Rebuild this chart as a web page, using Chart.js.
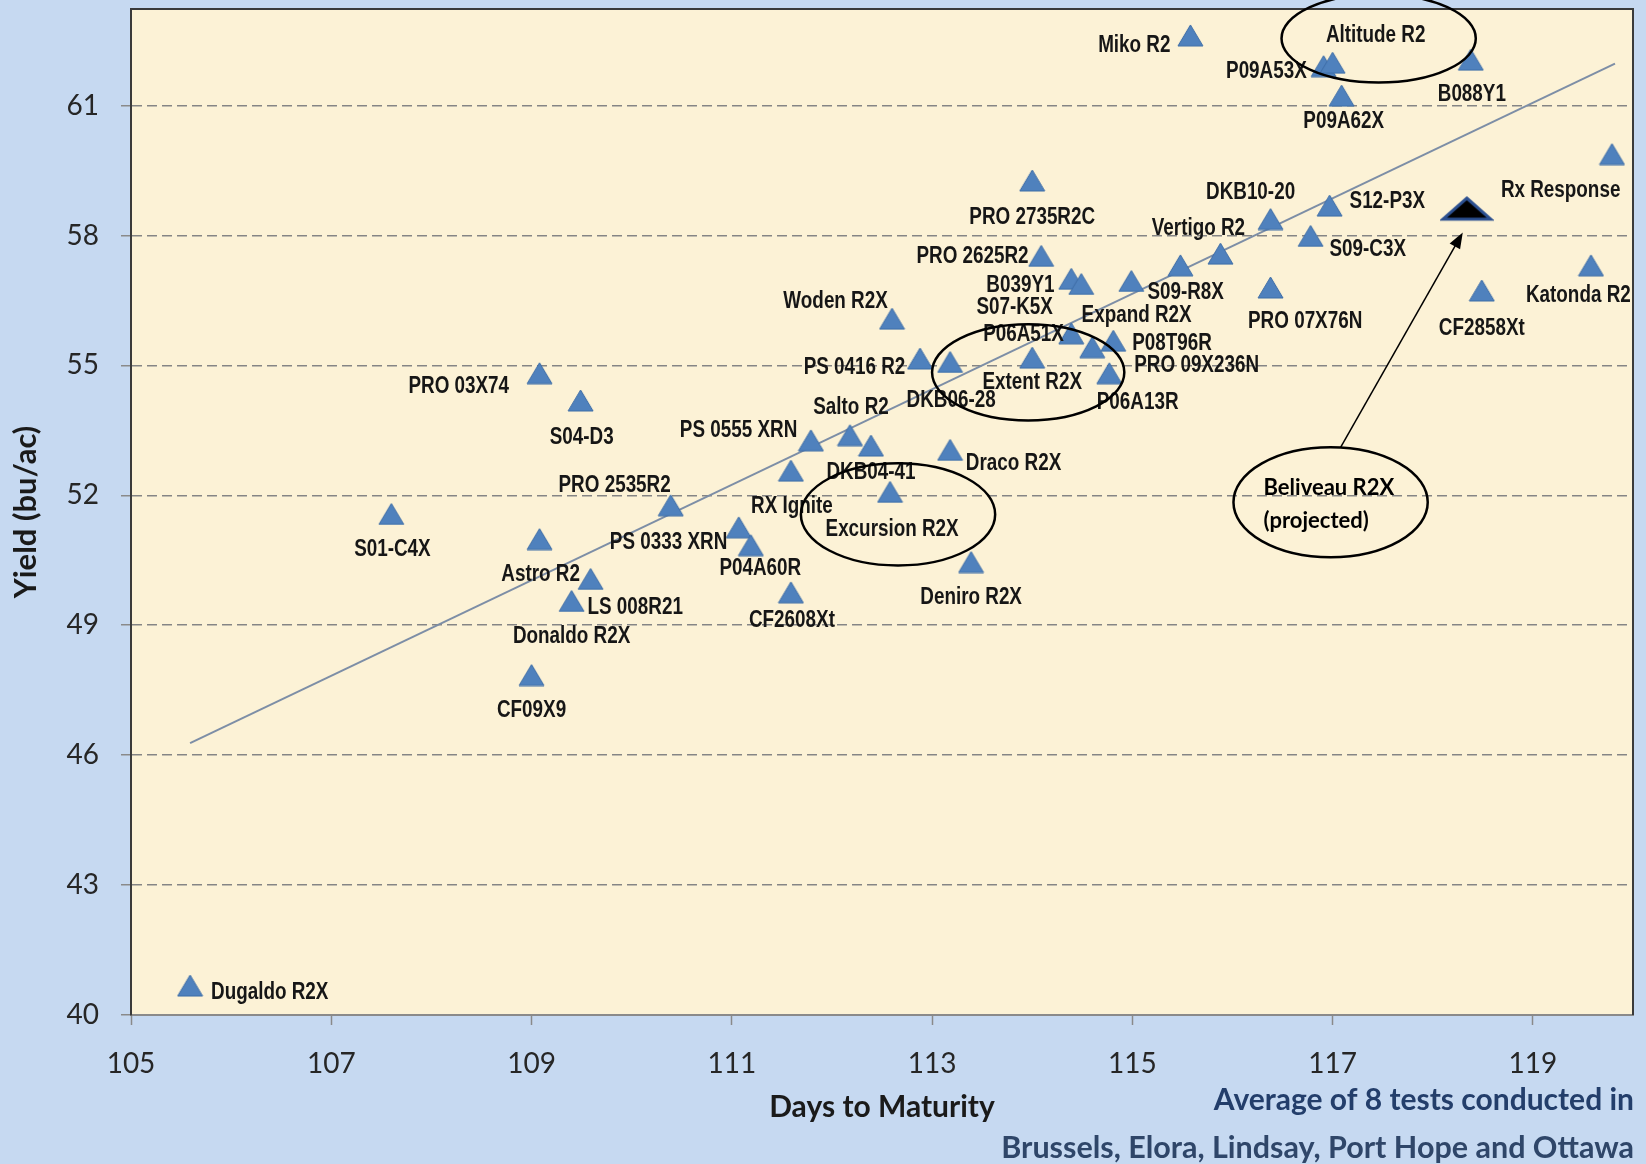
<!DOCTYPE html>
<html>
<head>
<meta charset="utf-8">
<script src="https://cdn.jsdelivr.net/npm/chart.js@4.4.0/dist/chart.umd.min.js"></script>
<style>
  html, body { margin: 0; padding: 0; background: #c6d9f1; }
  #wrap { width: 1646px; height: 1164px; }
  canvas { display: block; }
</style>
</head>
<body>
<div id="wrap"><canvas id="c" width="1646" height="1164"></canvas></div>
<script>
// ---------------- data ----------------
const varieties = ['Miko R2','P09A53X','Altitude R2','P09A62X','B088Y1','Rx Response','S12-P3X','DKB10-20','S09-C3X','Vertigo R2',
  'S09-R8X','Expand R2X','PRO 07X76N','Katonda R2','CF2858Xt','PRO 2735R2C','PRO 2625R2','B039Y1','S07-K5X','Woden R2X',
  'P06A51X','PRO 09X236N','P08T96R','Extent R2X','PS 0416 R2','DKB06-28','P06A13R','PRO 03X74','S04-D3','PS 0555 XRN',
  'Salto R2','DKB04-41','Draco R2X','RX Ignite','PRO 2535R2','S01-C4X','Excursion R2X','PS 0333 XRN','P04A60R','Astro R2',
  'LS 008R21','Donaldo R2X','Deniro R2X','CF2608Xt','CF09X9','Dugaldo R2X'];
const daysToMaturity = [115.58,116.91,117.00,117.09,118.38,119.79,116.97,116.38,116.78,115.88,
  115.48,114.99,116.38,119.58,118.49,114.00,114.09,114.39,114.49,112.60,
  114.39,114.60,114.81,114.00,112.88,113.18,114.77,109.08,109.49,111.79,
  112.18,112.39,113.18,111.59,110.39,107.60,112.58,111.07,111.19,109.08,
  109.59,109.40,113.39,111.59,109.00,105.59];
const yieldBuAc = [62.62,61.91,61.99,61.23,62.06,59.88,58.69,58.38,57.99,57.58,
  57.31,56.95,56.80,57.31,56.73,59.27,57.53,57.00,56.88,56.08,
  55.74,55.42,55.57,55.18,55.16,55.08,54.82,54.82,54.19,53.27,
  53.39,53.15,53.05,52.57,51.77,51.57,52.08,51.26,50.85,50.99,
  50.07,49.56,50.46,49.76,47.85,40.68];
const projectedName = ['Beliveau R2X', '(projected)'];
const projectedDays = [118.34];
const projectedYield = [58.62];
const trendDays = [105.59, 119.82];
const trendYield = [46.28, 61.97];
const xTicks = [105, 107, 109, 111, 113, 115, 117, 119];
const yTicks = [40, 43, 46, 49, 52, 55, 58, 61];

// ---------------- label placement (style) ----------------
// [dx, dy, anchor] offsets from the marker; l = text starts there, r = text ends there, c = centred
const labelLayout = [[-19,10,'r'],[-16,5,'r'],[41,-26,'c'],[2,25,'c'],[1,33,'c'],[8,35,'r'],[19,-4,'l'],[-19,-25,'c'],[18,13,'l'],[-21,-24,'c'],
  [5,26,'c'],[5,33,'c'],[33,33,'c'],[-12,29,'c'],[0,36,'c'],[0,35,'c'],[-12,1,'r'],[-16,7,'r'],[-27,23,'r'],[-4,-16,'r'],
  [-7,1,'r'],[40,18,'l'],[18,3,'l'],[0,24,'c'],[-14,9,'r'],[1,37,'c'],[27,28,'c'],[-29,13,'r'],[1,35,'c'],[-13,-9,'r'],
  [1,-26,'c'],[0,26,'c'],[15,13,'l'],[1,34,'c'],[0,-19,'r'],[1,34,'c'],[2,36,'c'],[-11,15,'r'],[9,22,'c'],[1,34,'c'],
  [-3,27,'l'],[0,34,'c'],[0,34,'c'],[1,27,'c'],[0,34,'c'],[20,7,'l']];
const S = 1.05;
const NARROW = 0.82;
// callout ellipses (centre in data units, radii in data units)
const callouts = [
  {x:117.46, y:62.55, rx:0.97, ry:1.02},
  {x:113.96, y:54.84, rx:0.96, ry:1.11},
  {x:112.66, y:51.56, rx:0.97, ry:1.18},
  {x:116.98, y:51.84, rx:0.97, ry:1.27}
];
const arrowFrom = {x:117.08, y:53.11};
const arrowTo = {x:118.30, y:58.07};
const noteAt = {x:116.31, y1:52.16, y2:51.42};

// ---------------- marker images ----------------
function triCanvas(w, h, fill, stroke, lw) {
  const c = document.createElement('canvas');
  const pad = Math.ceil(lw);
  c.width = w + pad * 2; c.height = h + pad * 2;
  const g = c.getContext('2d');
  g.beginPath();
  g.moveTo(c.width / 2, pad);
  g.lineTo(c.width - pad, c.height - pad);
  g.lineTo(pad, c.height - pad);
  g.closePath();
  g.fillStyle = fill; g.fill();
  g.lineWidth = lw; g.strokeStyle = stroke; g.lineJoin = 'miter'; g.stroke();
  return c;
}
const blueTri = triCanvas(25, 21, '#4f81bd', '#3d6ca6', 1);
const blackTri = triCanvas(48, 21, '#000000', '#2b4f8f', 3);

// ---------------- plugins ----------------
const bgPlugin = {
  id: 'bg',
  beforeDraw(c) {
    const {ctx, chartArea: a} = c;
    ctx.save();
    ctx.fillStyle = '#c6d9f1';
    ctx.fillRect(0, 0, c.width, c.height);
    ctx.fillStyle = '#fcf2d6';
    ctx.fillRect(a.left, a.top, a.right - a.left, a.bottom - a.top);
    ctx.restore();
  },
  beforeDatasetsDraw(c) {
    const {ctx, chartArea: a} = c;
    ctx.save();
    ctx.strokeStyle = '#3a3a3a';
    ctx.lineWidth = 2;
    ctx.beginPath();
    ctx.moveTo(a.left, a.bottom);
    ctx.lineTo(a.left, a.top);
    ctx.lineTo(a.right, a.top);
    ctx.lineTo(a.right, a.bottom);
    ctx.stroke();
    ctx.restore();
  }
};

function narrowText(ctx, text, x, y, align, k) {
  ctx.save();
  ctx.translate(x, y);
  ctx.scale(k, 1);
  ctx.textAlign = align;
  ctx.fillText(text, 0, 0);
  ctx.restore();
}

const labelPlugin = {
  id: 'labels',
  afterDatasetsDraw(c) {
    const ctx = c.ctx;
    const xs = c.scales.x, ys = c.scales.y;
    const meta = c.getDatasetMeta(0);
    ctx.save();
    ctx.font = "bold 23px 'Liberation Sans', Arial, sans-serif";
    ctx.fillStyle = '#161616';
    ctx.textBaseline = 'middle';
    meta.data.forEach((pt, i) => {
      const [dx, dy, al] = labelLayout[i];
      const align = al === 'l' ? 'left' : (al === 'r' ? 'right' : 'center');
      narrowText(ctx, varieties[i], pt.x + dx * S, pt.y + dy * S, align, NARROW);
    });
    // callout ellipses
    ctx.strokeStyle = '#000';
    ctx.lineWidth = 2.5;
    callouts.forEach(e => {
      const cx = xs.getPixelForValue(e.x), cy = ys.getPixelForValue(e.y);
      const rxp = Math.abs(xs.getPixelForValue(e.x + e.rx) - cx);
      const ryp = Math.abs(ys.getPixelForValue(e.y + e.ry) - cy);
      ctx.beginPath();
      ctx.ellipse(cx, cy, rxp, ryp, 0, 0, Math.PI * 2);
      ctx.stroke();
    });
    // arrow
    const x1 = xs.getPixelForValue(arrowFrom.x), y1 = ys.getPixelForValue(arrowFrom.y);
    const x2 = xs.getPixelForValue(arrowTo.x), y2 = ys.getPixelForValue(arrowTo.y);
    const ang = Math.atan2(y2 - y1, x2 - x1);
    const hl = 16, hw = 6;
    ctx.lineWidth = 1.5;
    ctx.beginPath();
    ctx.moveTo(x1, y1);
    ctx.lineTo(x2 - Math.cos(ang) * hl * 0.8, y2 - Math.sin(ang) * hl * 0.8);
    ctx.stroke();
    ctx.fillStyle = '#000';
    ctx.beginPath();
    ctx.moveTo(x2, y2);
    ctx.lineTo(x2 - Math.cos(ang) * hl - Math.sin(ang) * hw, y2 - Math.sin(ang) * hl + Math.cos(ang) * hw);
    ctx.lineTo(x2 - Math.cos(ang) * hl + Math.sin(ang) * hw, y2 - Math.sin(ang) * hl - Math.cos(ang) * hw);
    ctx.closePath();
    ctx.fill();
    // note text
    ctx.font = "bold 22px Lato, 'Open Sans', sans-serif";
    ctx.fillStyle = '#000';
    ctx.textAlign = 'left';
    const nx = xs.getPixelForValue(noteAt.x);
    ctx.fillText(projectedName[0], nx, ys.getPixelForValue(noteAt.y1));
    ctx.fillText(projectedName[1], nx, ys.getPixelForValue(noteAt.y2));
    ctx.restore();
  },
  afterDraw(c) {
    const ctx = c.ctx;
    const a = c.chartArea;
    ctx.save();
    ctx.textAlign = 'right';
    ctx.textBaseline = 'middle';
    ctx.fillStyle = '#233e6b';
    ctx.font = "bold 30px Lato, 'Open Sans', sans-serif";
    ctx.fillText('Average of 8 tests conducted in', a.right + 1, 1100);
    ctx.fillStyle = '#2f4669';
    ctx.font = "bold 30.5px Lato, 'Open Sans', sans-serif";
    ctx.fillText('Brussels, Elora, Lindsay, Port Hope and Ottawa', a.right + 1, 1148);
    ctx.restore();
  }
};

// ---------------- chart ----------------
const ctx = document.getElementById('c').getContext('2d');
new Chart(ctx, {
  type: 'scatter',
  data: {
    datasets: [
      {
        label: 'Varieties',
        data: daysToMaturity.map((x, i) => ({x: x, y: yieldBuAc[i]})),
        pointStyle: blueTri,
        pointRadius: 12,
        pointHoverRadius: 12,
        order: 1
      },
      {
        label: projectedName.join(' '),
        data: projectedDays.map((x, i) => ({x: x, y: projectedYield[i]})),
        pointStyle: blackTri,
        pointRadius: 20,
        pointHoverRadius: 20,
        order: 0
      },
      {
        type: 'line',
        label: 'Trend',
        data: trendDays.map((x, i) => ({x: x, y: trendYield[i]})),
        borderColor: '#7d8ea6',
        borderWidth: 2,
        pointRadius: 0,
        showLine: true,
        fill: false,
        tension: 0,
        order: 3
      }
    ]
  },
  options: {
    responsive: false,
    animation: false,
    devicePixelRatio: 1,
    events: [],
    layout: { padding: { left: 0, right: 13, top: 9, bottom: 0 }, autoPadding: false },
    plugins: { legend: { display: false }, tooltip: { enabled: false } },
    scales: {
      x: {
        type: 'linear',
        position: 'bottom',
        min: 105,
        max: 120,
        afterBuildTicks: s => { s.ticks = xTicks.map(v => ({value: v})); },
        afterFit: s => { s.height = 149; s.paddingLeft = 0; s.paddingRight = 0; },
        ticks: {
          font: { family: 'Lato', size: 28 },
          color: '#262626',
          padding: 22,
          maxRotation: 0,
          autoSkip: false
        },
        grid: { drawOnChartArea: false, drawTicks: true, tickLength: 10, tickColor: '#8a8a8a', tickWidth: 1.5 },
        border: { display: true, color: '#8a8a8a', width: 2 },
        title: {
          display: true,
          text: 'Days to Maturity',
          font: { family: 'Lato', size: 30, weight: 'bold' },
          color: '#1a1a1a',
          padding: { top: 0, bottom: 39 }
        }
      },
      y: {
        type: 'linear',
        position: 'left',
        min: 40,
        max: 63.23,
        afterBuildTicks: s => { s.ticks = yTicks.map(v => ({value: v})); },
        afterFit: s => { s.width = 131; s.paddingTop = 0; s.paddingBottom = 0; },
        ticks: {
          font: { family: 'Lato', size: 28 },
          color: '#262626',
          padding: 22
        },
        grid: {
          color: c => (c.tick && c.tick.value === 40) ? 'rgba(0,0,0,0)' : '#858585',
          lineWidth: 1.5,
          drawTicks: true,
          tickLength: 10,
          tickColor: '#8a8a8a',
          tickWidth: 1.5
        },
        border: { display: true, color: '#4a4a4a', width: 2, dash: [10, 5] },
        title: {
          display: true,
          text: 'Yield (bu/ac)',
          font: { family: 'Lato', size: 31, weight: 'bold' },
          color: '#1a1a1a',
          padding: { top: 7, bottom: 0 }
        }
      }
    }
  },
  plugins: [bgPlugin, labelPlugin]
});
</script>
</body>
</html>
